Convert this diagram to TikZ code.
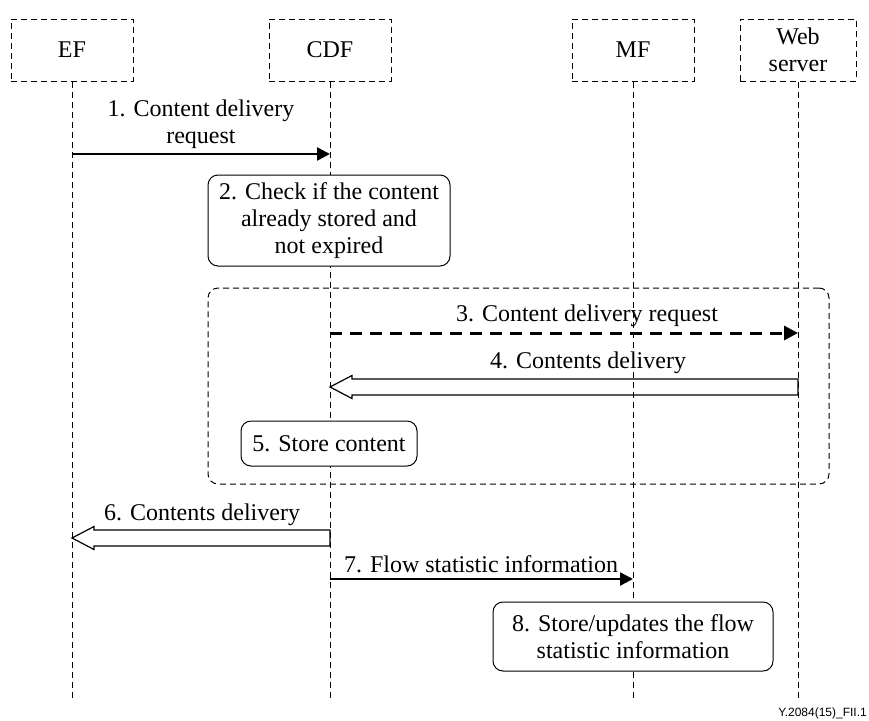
\documentclass[tikz,border=0pt]{standalone}
\usepackage{fontspec}
\setmainfont{Liberation Serif}
\newfontfamily\tagfont{Liberation Sans}
\usetikzlibrary{arrows.meta,calc}

\newcommand\hollowarrow[2]{%
  \draw[hollow] ($(#1)+(0,-8)$) -- ($(#2)+(22,-8)$) -- ($(#2)+(22,-11.5)$) -- (#2)
    -- ($(#2)+(22,11.5)$) -- ($(#2)+(22,8)$) -- ($(#1)+(0,8)$) -- cycle;}

\begin{document}
\begin{tikzpicture}[x=1pt,y=-1pt]
	\tikzstyle{every node}+=[inner sep=0pt, align=center, font=\fontsize{24}{27}\selectfont]
	\tikzstyle{entity}=[draw, line width=1pt, dash pattern=on 6pt off 4pt, minimum width=122pt, minimum height=62pt]
	\tikzstyle{lifeline}=[line width=1pt, dash pattern=on 6pt off 4pt]
	\tikzstyle{action}=[draw, line width=1pt, rounded corners=10pt, fill=white]
	\tikzstyle{group}=[draw, line width=1pt, dash pattern=on 6pt off 4pt, rounded corners=10pt]
	\tikzstyle{msg}=[line width=2.5pt, -{Triangle[length=13pt,width=13pt]}]
	\tikzstyle{hollow}=[line width=1.2pt, line join=miter]
	\useasboundingbox (0,0) rectangle (869,720);

	% entities
	\node[entity] (ef) at (72,50) {EF};
	\node[entity] (cdf) at (330,50) {CDF};
	\node[entity] (mf) at (633,50) {MF};
	\node[entity, minimum width=116pt] (ws) at (798,50) {Web\\server};

	% lifelines
	\coordinate (bottom) at (0,700);
	\draw[lifeline] (ef.south) -- (ef.south |- bottom);
	\draw[lifeline] (cdf.south) -- (cdf.south |- bottom);
	\draw[lifeline] (mf.south) -- (mf.south |- bottom);
	\draw[lifeline] (ws.south) -- (ws.south |- bottom);

	% message rows
	\coordinate (r1) at (0,154);
	\coordinate (r3) at (0,333);
	\coordinate (r4) at (0,387);
	\coordinate (r6) at (0,538);
	\coordinate (r7) at (0,579);

	% group
	\node[group, minimum width=621pt, minimum height=196pt] (grp) at (518.5,386) {};

	% 1
	\draw[msg] (ef.south |- r1) -- (cdf.south |- r1);
	\node (l1) at (201,124) {1. Content delivery\\request};

	% 2
	\node[action, minimum width=242pt, minimum height=91pt] (chk) at (329,220.5) {2. Check if the content\\already stored and\\not expired};

	% 3
	\draw[msg, line width=3pt, dash pattern=on 12pt off 8pt, -{Triangle[length=14pt,width=14pt]}] (cdf.south |- r3) -- (ws.south |- r3);
	\node (l3) at (587,316) {3. Content delivery request};

	% 4
	\hollowarrow{ws.south |- r4}{cdf.south |- r4}
	\node (l4) at (588,363) {4. Contents delivery};

	% 5
	\node[action, minimum width=176pt, minimum height=45pt] (store) at (329,443.5) {5. Store content};

	% 6
	\hollowarrow{cdf.south |- r6}{ef.south |- r6}
	\node (l6) at (202,515) {6. Contents delivery};

	% 7
	\draw[msg] (cdf.south |- r7) -- (mf.south |- r7);
	\node (l7) at (481,564) {7. Flow statistic information};

	% 8
	\node[action, minimum width=280pt, minimum height=69pt] (upd) at (633,636.5) {8. Store/updates the flow\\statistic information};

	\node[anchor=south east, font=\tagfont\fontsize{12}{14}\selectfont] (tag) at (867,719) {Y.2084(15)\_FII.1};
\end{tikzpicture}
\end{document}
